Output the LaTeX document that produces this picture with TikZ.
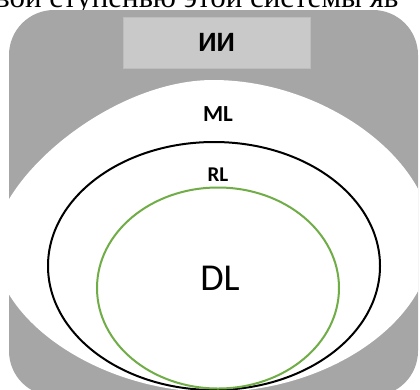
\documentclass[tikz,border=0pt]{standalone}
\usepackage{fontspec}
\setmainfont{Carlito}
\newfontfamily\serifru{Liberation Serif}
\usetikzlibrary{shapes.geometric}
\definecolor{bggray}{HTML}{A6A6A6}
\definecolor{boxgray}{HTML}{C9C9C9}
\definecolor{boxedge}{HTML}{BDBDBD}
\definecolor{dlgreen}{HTML}{70AD47}
\tikzset{
  labelbox/.style={fill=boxgray, draw=boxedge, line width=1pt, minimum width=187pt, minimum height=51pt, inner sep=0pt, font=\bfseries\fontsize{28}{28}\selectfont},
  ring/.style={ellipse, draw, line width=2pt, inner sep=0pt},
  lbl/.style={inner sep=0pt, font=\bfseries\fontsize{23}{23}\selectfont},
}
\begin{document}
\begin{tikzpicture}[x=1pt,y=-1pt]
\useasboundingbox (0,0) rectangle (420,389);
\clip (0,0) rectangle (420,389);
\node[anchor=base west, inner sep=0pt, font=\serifru\fontsize{31}{31}\selectfont] (cap) at (-5,7) {вой ступенью этой системы яв};
\fill[bggray, rounded corners=45pt] (9,10) rectangle (418,396);
\begin{scope}
  \clip[rounded corners=45pt] (9,10) rectangle (418,396);
  \fill[white] (-6,245) .. controls (-6,180) and (110,80) .. (213,80)
     .. controls (325,80) and (432,160) .. (432,240)
     .. controls (432,320) and (330,392) .. (213,392)
     .. controls (100,392) and (-6,320) .. (-6,245) -- cycle;
\end{scope}
\node[labelbox] (ai) at (216.5,42.5) {ИИ};
\node[ring, draw=black, minimum width=332pt, minimum height=248pt] (rl) at (214,266) {};
\node[ring, draw=dlgreen, minimum width=242pt, minimum height=201pt] (dl) at (218,288) {};
\node[lbl] (mlt) at (218,114) {ML};
\node[lbl, font=\bfseries\fontsize{21}{21}\selectfont] (rlt) at (218,175) {RL};
\node[inner sep=0pt, font=\fontsize{38}{38}\selectfont] (dlt) at (220,278) {DL};
\end{tikzpicture}
\end{document}
